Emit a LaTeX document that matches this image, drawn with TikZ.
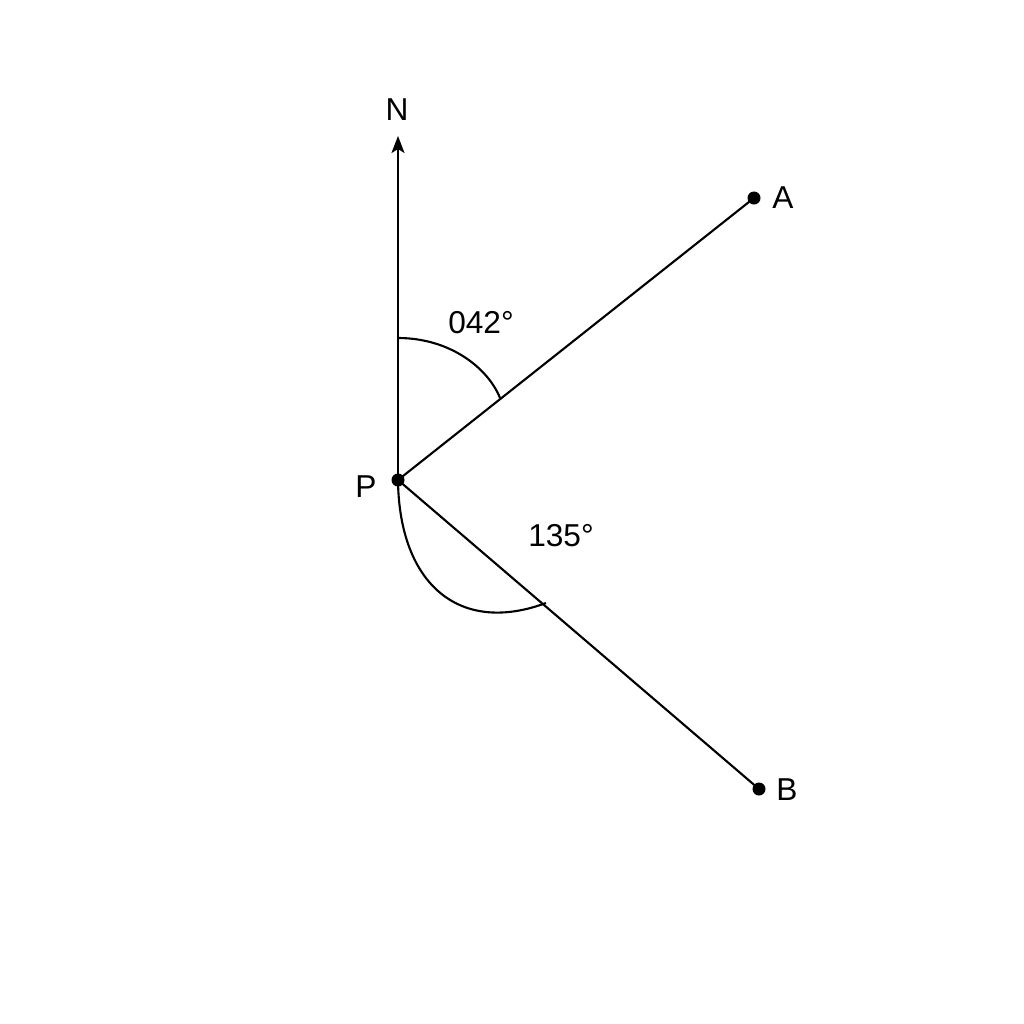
\documentclass[tikz,border=0pt]{standalone}
\usepackage{fontspec}
\setmainfont{Liberation Sans}
\usetikzlibrary{arrows.meta}
\begin{document}
\begin{tikzpicture}[x=0.01cm,y=-0.01cm,
  ln/.style={line width=0.6pt,black},
  pt/.style={circle,fill=black,inner sep=0pt,minimum size=0.13cm},
  lbl/.style={font=\fontsize{9}{10.8}\selectfont,inner sep=0pt}]
\useasboundingbox (0,0) rectangle (1024,1024);
\fill[white] (0,0) rectangle (1024,1024);
\node[pt] (P) at (398,480) {};
\node[pt] (A) at (754,198) {};
\node[pt] (B) at (759,789) {};
\coordinate (Ntip) at (398,136);
\node[lbl] (Nl) at (397,110) {N};
\node[lbl] (Al) at (783,198) {A};
\node[lbl] (Bl) at (787,790) {B};
\node[lbl] (Pl) at (366,487) {P};
\node[lbl] (a1) at (481,323) {042°};
\node[lbl] (a2) at (561,536) {135°};
\draw[ln,-{Stealth[length=0.17cm,width=0.13cm,inset=0.04cm]}] (P.center) -- (Ntip);
\draw[ln] (P.center) -- (A.center);
\draw[ln] (P.center) -- (B.center);
\draw[ln] (398,338) .. controls (450,338) and (488,368) .. (500,398);
\draw[ln] (398,482) .. controls (400,585) and (460,635) .. (546,603);
\end{tikzpicture}
\end{document}
